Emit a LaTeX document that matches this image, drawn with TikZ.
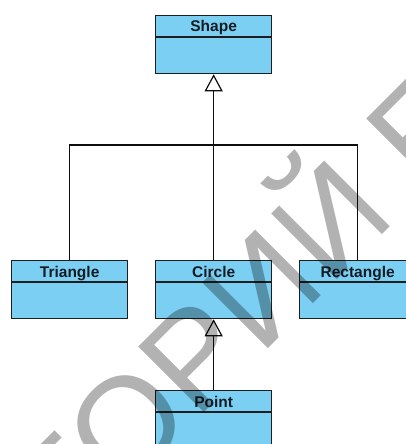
\documentclass[tikz,border=0pt]{standalone}
\usepackage{fontspec}
\setmainfont{Liberation Sans}
\usetikzlibrary{arrows.meta}
\definecolor{clsfill}{RGB}{122,207,243}
\definecolor{clsedge}{RGB}{30,30,30}
\definecolor{clstext}{RGB}{20,28,34}
\tikzset{
  clsbox/.style={draw=clsedge, line width=1.3pt, fill=clsfill, minimum width=116pt,
    minimum height=58pt, inner sep=0pt, anchor=north west},
  clsline/.style={draw=clsedge, line width=1.3pt},
  clstitle/.style={font=\fontsize{15.5}{15.5}\selectfont\bfseries, text=clstext, anchor=base, inner sep=0pt},
  conn/.style={draw=black!95, line width=1.3pt},
  inherit/.style={conn, -{Triangle[open, length=17pt, width=18pt, line width=1.2pt]}},
  wmark/.style={font=\fontsize{135}{135}\selectfont, text=black, text opacity=0.3,
    rotate=45, inner sep=0pt, anchor=base west},
}
\newcommand\umlcls[4]{%
  \node[clsbox] (#1) at (#2,#3) {};
  \draw[clsline] ([yshift=-22pt]#1.north west) -- ([yshift=-22pt]#1.north east);
  \node[clstitle] (#1t) at ([yshift=-17pt]#1.north) {#4};
}
\begin{document}
\begin{tikzpicture}[x=1pt,y=-1pt]
\useasboundingbox (0,0) rectangle (406,444);
\clip (0,0) rectangle (406,444);
\fill[white] (0,0) rectangle (406,444);
\umlcls{sh}{155}{15}{Shape}
\umlcls{tri}{11}{260}{Triangle}
\umlcls{circ}{155}{260}{Circle}
\umlcls{rect}{299}{260}{Rectangle}
\umlcls{pt}{155}{390}{Point}
\coordinate (j) at (213,145);
\draw[inherit] (circ.north) -- (sh.south);
\draw[conn] (tri.north) |- (j) -| (rect.north);
\draw[inherit] (pt.north) -- (circ.south);
\node[wmark] (wm) at (122.3,494.5) {\llap{РЕПОЗИТ}ОРИЙ БГУ};
\end{tikzpicture}
\end{document}
